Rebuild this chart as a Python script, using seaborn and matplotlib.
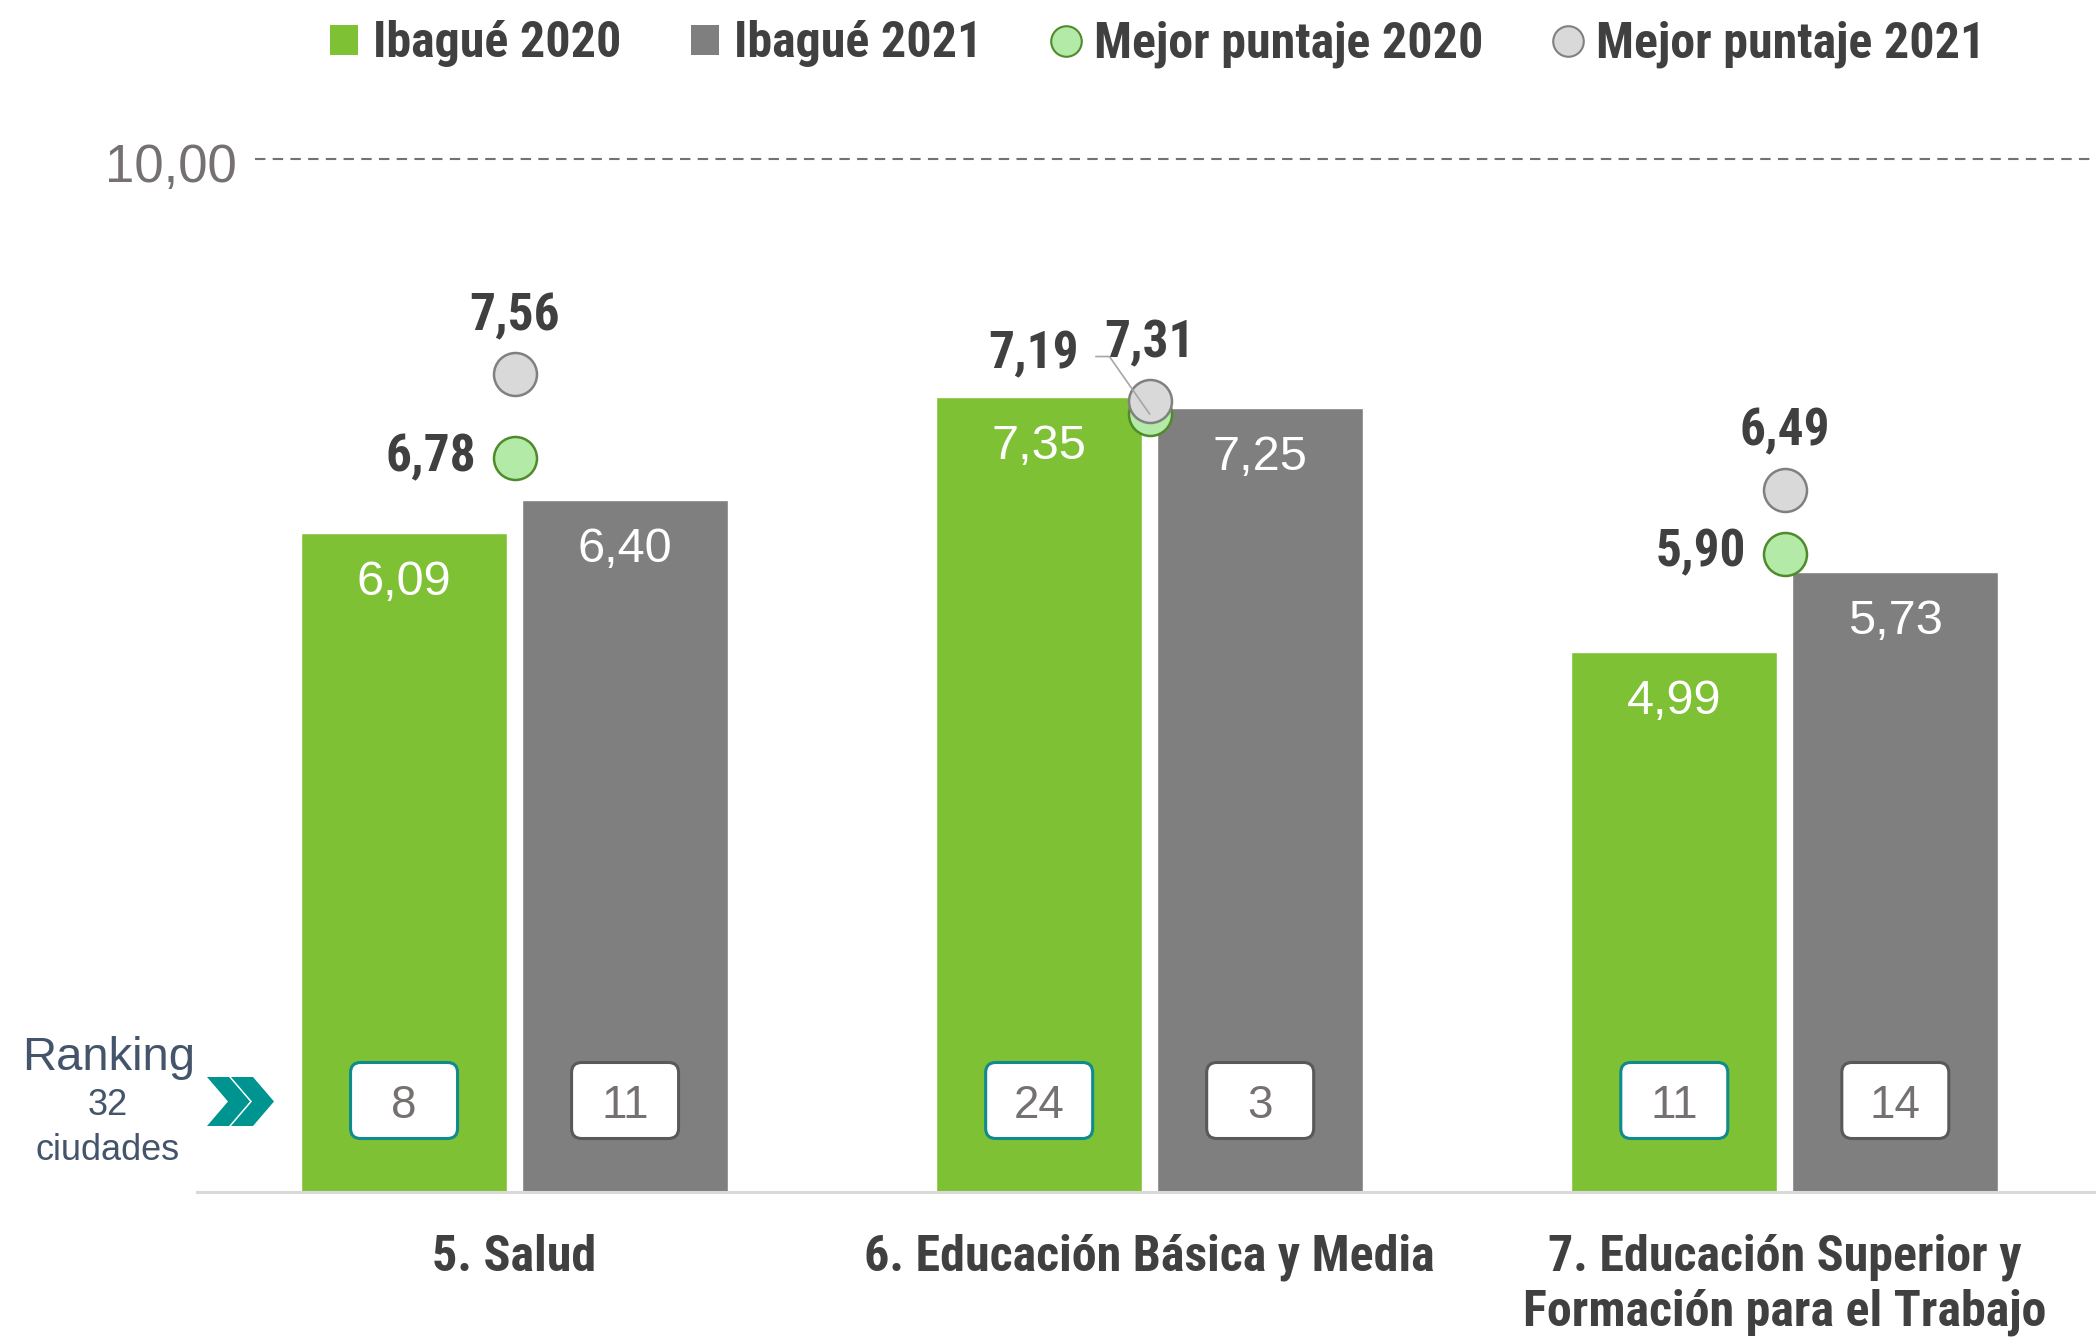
import matplotlib
matplotlib.use("Agg")
import matplotlib.pyplot as plt
import matplotlib.transforms as mtransforms
from matplotlib.patches import FancyBboxPatch, Polygon, Patch
from matplotlib.lines import Line2D
from matplotlib import font_manager
import seaborn as sns
import pandas as pd

# ---------------- data ----------------
categories = ["5. Salud", "6. Educación Básica y Media",
              "7. Educación Superior y\nFormación para el Trabajo"]
series_names = ["Ibagué 2020", "Ibagué 2021"]
ibague_2020 = [6.09, 7.35, 4.99]
ibague_2021 = [6.40, 7.25, 5.73]
mejor_2020 = [6.78, 7.19, 5.90]
mejor_2021 = [7.56, 7.31, 6.49]
rank_2020 = [8, 24, 11]
rank_2021 = [11, 3, 14]
reference_value = 10.0
reference_label = "10,00"
ranking_text = ["Ranking", "32", "ciudades"]
legend_labels = ["Ibagué 2020", "Ibagué 2021", "Mejor puntaje 2020", "Mejor puntaje 2021"]

# ---------------- style ----------------
GREEN = "#7FC134"
GRAY = "#7F7F7F"
LGREEN = "#B4EAA8"
DGREEN = "#4F8A2B"
LGRAY = "#D9D9D9"
MGRAY = "#808080"
DARK = "#404040"
TEAL = "#0F8B8D"

avail = {f.name for f in font_manager.fontManager.ttflist}
def pick(cands):
    for c in cands:
        if c in avail:
            return c
    return "DejaVu Sans"
NARROW = pick(["Roboto Condensed", "Archivo Narrow", "Barlow Semi Condensed",
               "Liberation Sans Narrow", "Liberation Sans"])
REG = pick(["Liberation Sans", "Arimo", "DejaVu Sans"])

sns.set_theme(style="white")
plt.rcParams["font.family"] = [REG, "DejaVu Sans"]

fmt = lambda v: f"{v:.2f}".replace(".", ",")

fig = plt.figure(figsize=(20.96, 13.40), dpi=100)
W, H = 2096, 1340
px2pt = 72 / 100

ax = fig.add_axes([197 / W, (H - 1192) / H, 1 - 197 / W, 10.5 * 108.2 / H])

df = pd.DataFrame({
    "cat": categories * 2,
    "serie": [series_names[0]] * 3 + [series_names[1]] * 3,
    "valor": ibague_2020 + ibague_2021,
})
sns.barplot(data=df, x="cat", y="valor", hue="serie", palette=[GREEN, GRAY],
            width=0.696, gap=0.068, saturation=1, legend=False, ax=ax, zorder=2)

ax.set_ylim(0, 10.5)
ax.set_xlim(-0.5, 2.49)
ax.set_xlabel("")
ax.set_ylabel("")
ax.set_yticks([])
for s in ["top", "right", "left"]:
    ax.spines[s].set_visible(False)
ax.spines["bottom"].set_color(LGRAY)
ax.spines["bottom"].set_linewidth(2.2)
ax.tick_params(axis="x", length=0, pad=30)
for lab in ax.get_xticklabels():
    lab.set_fontfamily([NARROW, "DejaVu Sans"])
    lab.set_fontweight("bold")
    lab.set_fontsize(36)
    lab.set_color(DARK)
    lab.set_linespacing(1.2)

xpos = ax.get_xticks()

# bar value labels and rank boxes
ranks = [rank_2020, rank_2021]
edge_cols = [TEAL, "#595959"]
for ci, cont in enumerate(ax.containers):
    for bi, rect in enumerate(cont):
        xc = rect.get_x() + rect.get_width() / 2
        val = rect.get_height()
        ax.annotate(fmt(val), xy=(xc, val), xytext=(0, -62 * px2pt),
                    textcoords="offset points", ha="center", va="baseline",
                    color="white", fontsize=35, fontfamily=REG, zorder=5)
        tr = fig.dpi_scale_trans + mtransforms.ScaledTranslation(xc, 0, ax.transData)
        box = FancyBboxPatch((-0.535 + 0.1, 0.535 + 0.1), 1.07 - 0.2, 0.76 - 0.2,
                             boxstyle="round,pad=0.1", transform=tr,
                             facecolor="white", edgecolor=edge_cols[ci],
                             linewidth=2.2, zorder=4)
        ax.add_patch(box)
        ax.annotate(str(ranks[ci][bi]), xy=(xc, 0), xytext=(0, 74 * px2pt),
                    textcoords="offset points", ha="center", va="baseline",
                    color="#767171", fontsize=33, fontfamily=REG, zorder=6)

# best-score markers
ms = 43 * px2pt
ax.scatter(xpos, mejor_2020, s=ms ** 2, c=LGREEN, edgecolors=DGREEN,
           linewidths=1.8, zorder=7)
ax.scatter(xpos, mejor_2021, s=ms ** 2, c=LGRAY, edgecolors=MGRAY,
           linewidths=1.8, zorder=8)

lab_kw = dict(textcoords="offset points", color=DARK, fontsize=37,
              fontfamily=[NARROW, "DejaVu Sans"], fontweight="bold", zorder=9)
for i, x in enumerate(xpos):
    ax.annotate(fmt(mejor_2021[i]), xy=(x, mejor_2021[i]), xytext=(0, 44 * px2pt),
                ha="center", va="baseline", **lab_kw)
    if abs(mejor_2021[i] - mejor_2020[i]) < 0.3:
        ax.annotate(fmt(mejor_2020[i]), xy=(x, mejor_2020[i]),
                    xytext=(-71 * px2pt, 46 * px2pt), ha="right", va="baseline",
                    arrowprops=dict(arrowstyle="-", color="#A6A6A6", lw=1.2,
                                    relpos=(1, 0.45), shrinkA=10, shrinkB=0,
                                    connectionstyle="angle,angleA=0,angleB=125,rad=0"),
                    **lab_kw)
    else:
        ax.annotate(fmt(mejor_2020[i]), xy=(x, mejor_2020[i]),
                    xytext=(-38.5 * px2pt, -13 * px2pt), ha="right", va="baseline",
                    **lab_kw)

# reference dashed line (secondary scale)
ax2 = ax.twinx()
ax2.set_ylim(0, 11.0)
ax2.set_axis_off()
ax2.axhline(reference_value, xmin=0.0305, xmax=1, color="#767171",
            lw=1.5, ls=(0, (5, 3.5)))
ax2.annotate(reference_label, xy=(0.021, reference_value),
             xycoords=mtransforms.blended_transform_factory(ax2.transAxes, ax2.transData),
             xytext=(0, -23 * px2pt), textcoords="offset points",
             ha="right", va="baseline", color="#767171", fontsize=38, fontfamily=REG)

# legend
handles = [
    Patch(facecolor=GREEN, edgecolor="none"),
    Patch(facecolor=GRAY, edgecolor="none"),
    Line2D([], [], ls="none", marker="o", markersize=22, markerfacecolor=LGREEN,
           markeredgecolor=DGREEN, markeredgewidth=1.5),
    Line2D([], [], ls="none", marker="o", markersize=22, markerfacecolor=LGRAY,
           markeredgecolor=MGRAY, markeredgewidth=1.5),
]
fig.legend(handles, legend_labels, loc="center", bbox_to_anchor=(1158 / W, 1 - 44 / H),
           ncol=4, frameon=False, handlelength=0.55, handleheight=0.55,
           handletextpad=0.3, columnspacing=1.4, borderaxespad=0, borderpad=0,
           labelcolor=DARK,
           prop=dict(family=[NARROW, "DejaVu Sans"], weight="bold", size=36))

# ranking caption
RCOL = "#44546A"
fig.text(109 / W, 1 - 1070 / H, ranking_text[0], ha="center", va="baseline",
         color=RCOL, fontsize=34, fontfamily=REG)
fig.text(108 / W, 1 - 1115 / H, ranking_text[1], ha="center", va="baseline",
         color=RCOL, fontsize=26, fontfamily=REG)
fig.text(108 / W, 1 - 1160 / H, ranking_text[2], ha="center", va="baseline",
         color=RCOL, fontsize=26, fontfamily=REG)

# chevrons
for dx in (0, 24):
    pts = [(207 + dx, 1077), (229 + dx, 1077), (250 + dx, 1101.5),
           (229 + dx, 1126), (207 + dx, 1126), (228 + dx, 1101.5)]
    fig.patches.append(Polygon([(x / W, 1 - y / H) for x, y in pts], closed=True,
                               transform=fig.transFigure, facecolor="#009490",
                               edgecolor="none"))

fig.savefig("out.png", dpi=100)
